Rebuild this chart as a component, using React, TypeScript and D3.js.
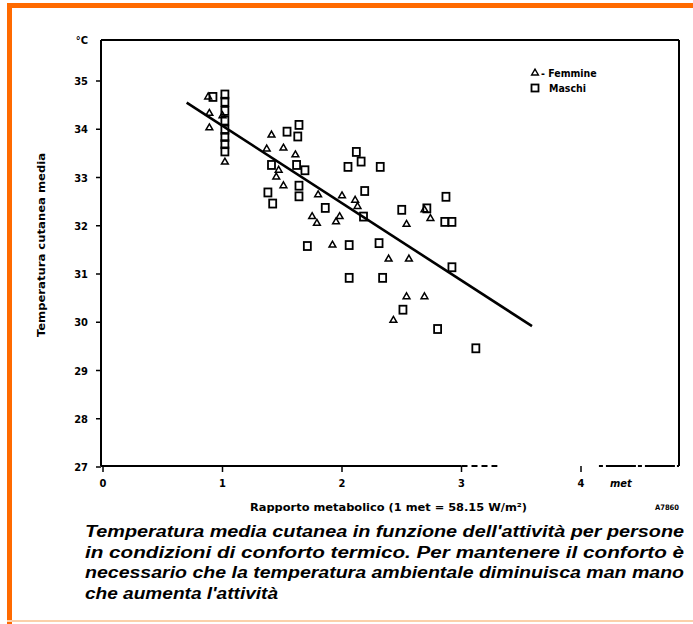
// App.tsx - temperatura cutanea media vs rapporto metabolico
import * as d3 from "d3";

// ---- data ----
const maschi: [number, number][] = [
  [0.92, 34.67], [1.02, 34.72], [1.02, 34.57], [1.02, 34.38], [1.02, 34.18],
  [1.02, 33.99], [1.02, 33.84], [1.02, 33.69], [1.02, 33.54],
  [1.54, 33.95], [1.64, 34.09], [1.63, 33.85], [1.41, 33.26], [1.62, 33.26],
  [1.69, 33.15], [1.64, 32.83], [1.38, 32.69], [1.64, 32.61], [1.42, 32.46],
  [1.86, 32.37], [1.71, 31.58], [2.06, 31.6], [2.06, 30.92], [2.12, 33.53],
  [2.16, 33.33], [2.05, 33.22], [2.32, 33.22], [2.19, 32.72], [2.18, 32.19],
  [2.31, 31.64], [2.5, 32.33], [2.71, 32.36], [2.87, 32.6], [2.86, 32.08],
  [2.92, 32.08], [2.34, 30.92], [2.92, 31.14], [2.51, 30.26], [2.8, 29.86],
  [3.12, 29.46],
];

const femmine: [number, number][] = [
  [0.88, 34.67], [0.89, 34.33], [0.89, 34.03], [1.0, 34.28], [1.02, 33.32],
  [1.37, 33.59], [1.51, 33.61], [1.61, 33.47], [1.47, 33.15], [1.45, 33.01],
  [1.51, 32.83], [1.8, 32.64], [2.0, 32.62], [2.11, 32.53], [1.75, 32.19],
  [1.79, 32.05], [1.95, 32.08], [1.98, 32.19], [1.92, 31.6], [2.13, 32.4],
  [2.54, 32.03], [2.69, 32.33], [2.74, 32.15], [2.39, 31.31], [2.56, 31.31],
  [2.54, 30.53], [2.69, 30.53], [2.43, 30.04], [1.41, 33.88],
];

// retta di regressione (estremi)
const regressione: [number, number][] = [
  [0.7, 34.55],
  [3.59, 29.92],
];

const xTicks = [0, 1, 2, 3, 4];
const xTickLabels = ["0", "1", "2", "3", "4"];
const yTicks = [27, 28, 29, 30, 31, 32, 33, 34, 35];

const captionLines = [
  "Temperatura media cutanea in funzione dell'attività per persone",
  "in condizioni di conforto termico. Per mantenere il conforto è",
  "necessario che la temperatura ambientale diminuisca man mano",
  "che aumenta l'attività",
];

const W = 693;
const H = 624;
const left = 101;
const right = 679;
const top = 40;
const bottom = 466;

const axisFont = "'DejaVu Sans Condensed', 'DejaVu Sans', sans-serif";

export default function App() {
  const x = d3.scaleLinear().domain([0, 4]).range([103, 581]);
  const y = d3.scaleLinear().domain([27, 35]).range([467, 81]);

  const line = d3
    .line<[number, number]>()
    .x((d) => x(d[0]))
    .y((d) => y(d[1]));

  const tri = d3.symbol(d3.symbolTriangle, 20);

  return (
    <div style={{ position: "absolute", left: 0, top: 0 }}>
      <svg width={W} height={H} style={{ display: "block", background: "#fff" }}>
        {/* cornice arancione */}
        <rect x={7} y={3} width={W - 7} height={5} fill="#ff6a00" />
        <rect x={7} y={3} width={5} height={H - 3} fill="#ff6a00" />
        <rect x={7} y={620} width={W - 7} height={2} fill="#fbd0aa" />

        {/* riquadro del grafico */}
        <line x1={left} y1={top} x2={right} y2={top} stroke="#000" strokeWidth={2} />
        <line x1={right} y1={top} x2={right} y2={bottom} stroke="#000" strokeWidth={2} />
        <line x1={left} y1={top} x2={left} y2={bottom} stroke="#000" strokeWidth={2} />
        <line x1={left} y1={bottom} x2={x(3)} y2={bottom} stroke="#000" strokeWidth={2} />
        <line
          x1={x(3)}
          y1={bottom}
          x2={x(3.3)}
          y2={bottom}
          stroke="#000"
          strokeWidth={2}
          strokeDasharray="6 4"
        />
        <line
          x1={x(4.15)}
          y1={bottom}
          x2={right}
          y2={bottom}
          stroke="#000"
          strokeWidth={2}
          strokeDasharray="4 3 30 2"
        />

        {/* asse y */}
        {yTicks.map((t) => (
          <g key={t}>
            <line x1={left - 5} x2={left} y1={y(t)} y2={y(t)} stroke="#000" strokeWidth={1.5} />
            <text
              x={88}
              y={y(t) + 4}
              textAnchor="end"
              fontFamily={axisFont}
              fontWeight="bold"
              fontSize={11}
            >
              {t}
            </text>
          </g>
        ))}
        <text x={88} y={top + 4} textAnchor="end" fontFamily={axisFont} fontWeight="bold" fontSize={11}>
          °C
        </text>
        <text
          transform={`translate(45, 245) rotate(-90)`}
          textAnchor="middle"
          fontFamily={axisFont}
          fontWeight="bold"
          fontSize={10.5}
          textLength={184}
          lengthAdjust="spacingAndGlyphs"
        >
          Temperatura cutanea media
        </text>

        {/* asse x */}
        {xTicks.map((t, i) => (
          <g key={t}>
            <line x1={x(t)} x2={x(t)} y1={bottom} y2={bottom + 6} stroke="#000" strokeWidth={1.5} />
            <text
              x={x(t)}
              y={bottom + 21}
              textAnchor="middle"
              fontFamily={axisFont}
              fontWeight="bold"
              fontSize={11}
            >
              {xTickLabels[i]}
            </text>
          </g>
        ))}
        <text x={610} y={bottom + 21} fontFamily={axisFont} fontWeight="bold" fontStyle="italic" fontSize={11}>
          met
        </text>
        <text
          x={250}
          y={511}
          fontFamily={axisFont}
          fontWeight="bold"
          fontSize={10.5}
          textLength={277}
          lengthAdjust="spacingAndGlyphs"
        >
          Rapporto metabolico (1 met = 58.15 W/m²)
        </text>
        <text x={655} y={510} fontFamily={axisFont} fontWeight="bold" fontSize={7.5}>
          A7860
        </text>

        {/* legenda */}
        <path d={tri()!} transform={`translate(535, 73)`} fill="none" stroke="#000" strokeWidth={1.4} />
        <text x={541} y={77} fontFamily={axisFont} fontWeight="bold" fontSize={10.5}>
          - Femmine
        </text>
        <rect x={531.5} y={84.5} width={7} height={7} fill="none" stroke="#000" strokeWidth={1.8} />
        <text x={549} y={92} fontFamily={axisFont} fontWeight="bold" fontSize={10.5}>
          Maschi
        </text>

        {/* retta */}
        <path d={line(regressione)!} fill="none" stroke="#000" strokeWidth={2.6} />

        {/* punti */}
        {maschi.map((d, i) => (
          <rect
            key={"m" + i}
            x={x(d[0]) - 3.5}
            y={y(d[1]) - 4}
            width={7}
            height={8}
            fill="none"
            stroke="#000"
            strokeWidth={1.8}
          />
        ))}
        {femmine.map((d, i) => (
          <path
            key={"f" + i}
            d={tri()!}
            transform={`translate(${x(d[0])}, ${y(d[1])})`}
            fill="none"
            stroke="#000"
            strokeWidth={1.5}
          />
        ))}

        {/* didascalia */}
        {captionLines.map((s, i) => (
          <text
            key={i}
            x={85}
            y={537 + i * 20.7}
            fontFamily="'Liberation Sans', Arial, sans-serif"
            fontWeight="bold"
            fontStyle="italic"
            fontSize={16}
            textLength={i < 3 ? 599 : 193}
            lengthAdjust="spacingAndGlyphs"
          >
            {s}
          </text>
        ))}
      </svg>
    </div>
  );
}
